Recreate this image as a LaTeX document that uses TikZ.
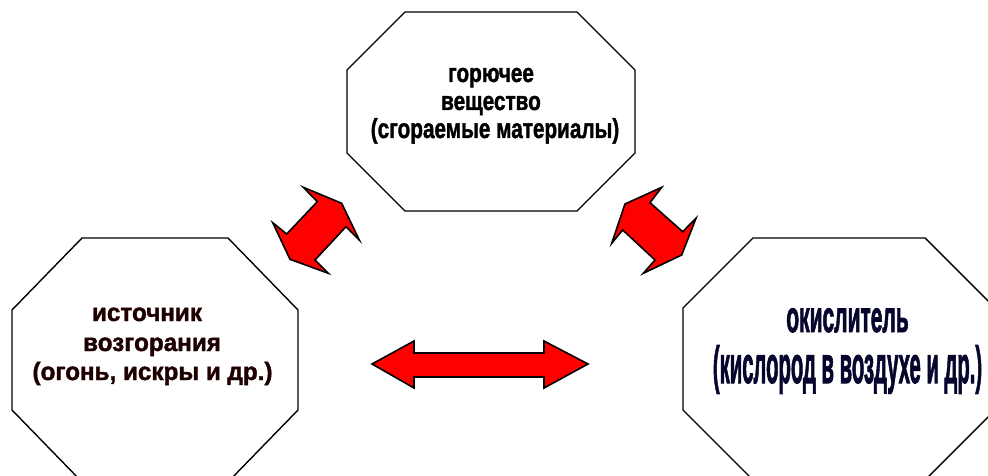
\documentclass[tikz,border=0pt]{standalone}
\usepackage{fontspec}
\setmainfont{Liberation Sans}
\newfontfamily\heavyfont{Liberation Sans}[BoldFeatures={FakeBold=1.6}]
\newfontfamily\heavierfont{Liberation Sans}[BoldFeatures={FakeBold=2.2}]
\definecolor{arrowred}{RGB}{255,0,0}
\definecolor{lefttxt}{RGB}{30,0,0}
\definecolor{righttxt}{RGB}{5,5,45}
\tikzset{
  octa/.style={draw=black, line width=1.4pt, fill=white},
  dblarrow/.style={draw=black, line width=1.6pt, fill=arrowred, line join=miter},
  toptext/.style={anchor=base, inner sep=0pt, font=\fontsize{25}{28}\selectfont\heavyfont\bfseries, text=black},
  lefttext/.style={anchor=base, inner sep=0pt, font=\fontsize{25}{28}\selectfont\heavyfont\bfseries, text=lefttxt},
  righttext/.style={anchor=base, inner sep=0pt, text=righttxt}
}
\begin{document}
\begin{tikzpicture}[x=1pt,y=-1pt]
\useasboundingbox (0,0) rectangle (988,476);
\clip (0,0) rectangle (988,476);
% octagons
\draw[octa] (405,12) -- (577,12) -- (635,70) -- (635,153) -- (577,211) -- (405,211) -- (347,153) -- (347,70) -- cycle;
\draw[octa] (82,238) -- (228,238) -- (298,310) -- (298,410) -- (228,482) -- (82,482) -- (12,410) -- (12,310) -- cycle;
\draw[octa] (753,238) -- (925,238) -- (995,308) -- (995,410) -- (925,480) -- (753,480) -- (683,410) -- (683,308) -- cycle;
% arrows
\draw[dblarrow] (341.7,203.3) -- (359.3,240) -- (346,226.7) -- (315,260) -- (328.3,273.3) -- (290,259.3) -- (272.7,222.7) -- (286.7,234) -- (317.3,201.7) -- (303.3,187.3) -- cycle;
\draw[dblarrow] (625,204) -- (611.7,243.3) -- (622.7,230) -- (655,260) -- (643.3,273.3) -- (681.7,255) -- (696,218.3) -- (682.7,231.7) -- (650,202.7) -- (661.7,187.3) -- cycle;
\draw[dblarrow] (372,364) -- (414,341) -- (414,353) -- (544,353) -- (544,341) -- (588,364) -- (544,388) -- (544,377) -- (414,377) -- (414,388) -- cycle;
% top text
\node[toptext] (t1) at (491,82) {\scalebox{0.83}[1.05]{горючее}};
\node[toptext] (t2) at (491,110) {\scalebox{0.83}[1.05]{вещество}};
\node[toptext] (t3) at (495,138) {\scalebox{0.83}[1.1]{(сгораемые материалы)}};
% left text
\node[lefttext] (l1) at (147,321) {\scalebox{0.97}[1]{источник}};
\node[lefttext] (l2) at (152,351) {\scalebox{0.97}[1]{возгорания}};
\node[lefttext] (l3) at (152.5,380) {\scalebox{0.97}[1]{(огонь, искры и др.)}};
% right text
\node[righttext, font=\fontsize{42}{46}\selectfont\heavierfont\bfseries] (r1) at (847.5,332) {\scalebox{0.5}[1.05]{окислитель}};
\node[righttext, font=\fontsize{52}{56}\selectfont\heavierfont\bfseries] (r2) at (847.5,383) {\scalebox{0.39}[1]{(кислород в воздухе и др.)}};
\end{tikzpicture}
\end{document}
